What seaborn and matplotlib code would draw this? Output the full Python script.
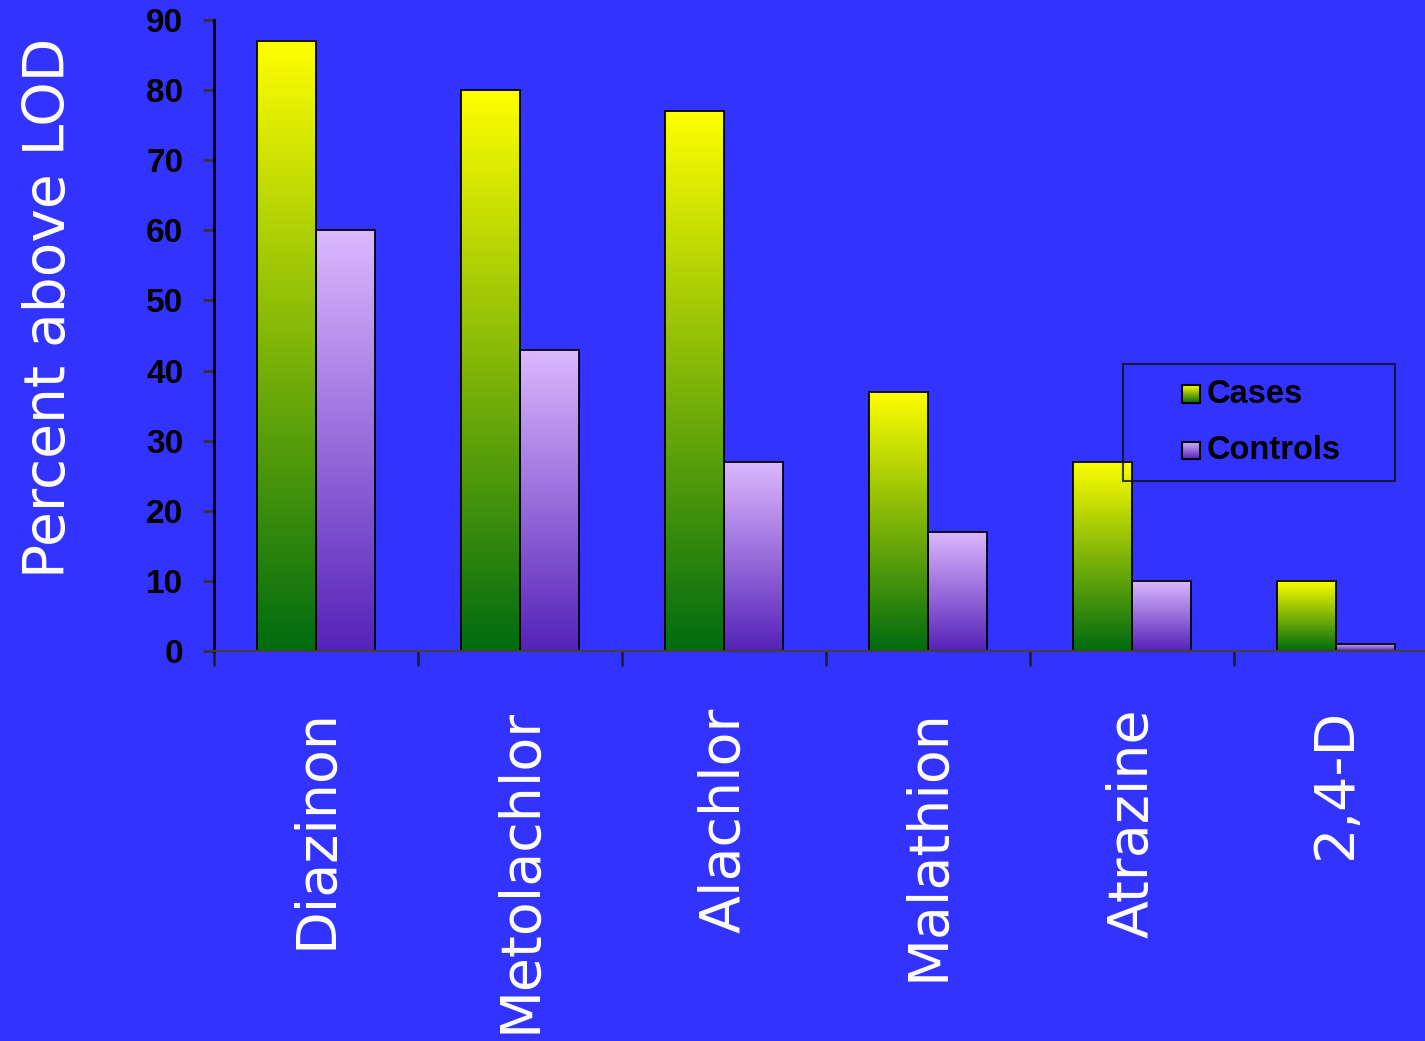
import numpy as np
import pandas as pd
import matplotlib
matplotlib.use("Agg")
import matplotlib.pyplot as plt
import seaborn as sns
from matplotlib.colors import to_rgb
from matplotlib.legend_handler import HandlerBase
from matplotlib.image import BboxImage
from matplotlib.transforms import Bbox, TransformedBbox
from matplotlib.patches import Rectangle, Patch

# Data
chemicals = ["Diazinon", "Metolachlor", "Alachlor", "Malathion", "Atrazine", "2,4-D"]
cases = [87, 80, 77, 37, 27, 10]
controls = [60, 43, 27, 17, 10, 1]
groups = ["Cases", "Controls"]
yticks = list(range(0, 91, 10))

# Colours
BG = "#3333FF"
case_top, case_bottom = "#FFFF00", "#006B10"
ctrl_top, ctrl_bottom = "#DDB8FF", "#5522B8"

sns.set_theme(style="white")
plt.rcParams["font.family"] = ["DejaVu Sans"]


def gradient(top, bottom, n=256):
    t = np.linspace(0, 1, n)[:, None]
    c0 = np.array(to_rgb(top))
    c1 = np.array(to_rgb(bottom))
    return (c0 * (1 - t) + c1 * t)[:, None, :]


class GradientSquare(HandlerBase):
    def __init__(self, top, bottom, size=12.5):
        super().__init__()
        self.top, self.bottom, self.size = top, bottom, size

    def create_artists(self, legend, orig_handle, xdescent, ydescent,
                       width, height, fontsize, trans):
        s = self.size
        x = -xdescent + width - s
        y = -ydescent + (height - s) / 2 - 2
        img = BboxImage(TransformedBbox(Bbox.from_bounds(x, y, s, s), trans),
                        interpolation="bilinear", origin="upper")
        img.set_data(gradient(self.top, self.bottom))
        edge = Rectangle((x, y), s, s, facecolor="none", edgecolor="black",
                         linewidth=1.5, transform=trans)
        return [img, edge]


df = pd.DataFrame({
    "Chemical": chemicals * 2,
    "Group": [groups[0]] * len(cases) + [groups[1]] * len(controls),
    "Percent": cases + controls,
})

fig = plt.figure(figsize=(14.25, 10.41), dpi=100, facecolor=BG)
ax = fig.add_axes([0.1502, 0.3746, 0.8589, 0.6062])
ax.set_facecolor(BG)

palette = {"Cases": case_bottom, "Controls": ctrl_bottom}
sns.barplot(data=df, x="Chemical", y="Percent", hue="Group",
            order=chemicals, hue_order=groups, palette=palette,
            saturation=1, width=0.574, gap=0, edgecolor="black",
            linewidth=1.3, errorbar=None, legend=False, ax=ax)

# Vertical colour gradients inside every bar, picked by the bar's hue colour
case_rgb = np.array(to_rgb(case_bottom))
ctrl_rgb = np.array(to_rgb(ctrl_bottom))
for patch in list(ax.patches):
    x, y = patch.get_x(), patch.get_y()
    w, h = patch.get_width(), patch.get_height()
    fc = np.array(patch.get_facecolor()[:3])
    if np.linalg.norm(fc - case_rgb) < np.linalg.norm(fc - ctrl_rgb):
        grad = gradient(case_top, case_bottom)
    else:
        grad = gradient(ctrl_top, ctrl_bottom)
    ax.imshow(grad, extent=[x, x + w, y, y + h], origin="upper",
              aspect="auto", interpolation="bilinear", zorder=1.5)
    patch.set_facecolor("none")
    patch.set_zorder(2)

ax.set_xlim(-0.5, 5.5)
ax.set_ylim(0, 90)

for side in ("top", "right"):
    ax.spines[side].set_visible(False)
ax.spines["left"].set_color("black")
ax.spines["left"].set_linewidth(2.2)
ax.spines["bottom"].set_color("#404040")
ax.spines["bottom"].set_linewidth(1.6)

# y axis
ax.set_yticks(yticks)
ax.set_yticklabels([str(v) for v in yticks])
ax.tick_params(axis="y", left=True, direction="out", length=8, width=2,
               color="#333333", pad=14, labelsize=24, labelcolor="black")
for lab in ax.get_yticklabels():
    lab.set_fontweight("bold")
    lab.set_family("Liberation Sans")

# x axis: category labels at centres, separator ticks between groups
ax.set_xticks(range(len(chemicals)))
ax.set_xticklabels(chemicals, rotation=90, va="top", ha="center",
                   color="white", fontsize=40)
ax.set_xticks(np.arange(-0.5, len(chemicals), 1), minor=True)
ax.tick_params(axis="x", which="major", bottom=True, length=0, pad=41)
ax.tick_params(axis="x", which="minor", bottom=True, length=11, width=2,
               color="#222222", direction="out")

ax.set_xlabel("")
ax.set_ylabel("Percent above LOD", color="white", fontsize=40.8)
ax.yaxis.set_label_coords(-0.112, 0.544)

handles = [Patch(label=groups[0]), Patch(label=groups[1])]
leg = ax.legend(handles, groups,
                handler_map={handles[0]: GradientSquare(case_top, case_bottom),
                             handles[1]: GradientSquare(ctrl_top, ctrl_bottom)},
                bbox_to_anchor=(0.788, 0.538, 0.191, 0.1085),
                bbox_transform=fig.transFigure, loc="lower left", mode="expand",
                prop={"family": "Liberation Sans", "weight": "bold", "size": 23.5},
                labelcolor="black", handlelength=1.9, handletextpad=0.2,
                borderpad=0.45, labelspacing=0.78, fancybox=False,
                borderaxespad=0, frameon=True)
frame = leg.get_frame()
frame.set_facecolor("none")
frame.set_edgecolor("#111111")
frame.set_linewidth(1.5)

fig.savefig("out.png", dpi=100, facecolor=BG)
